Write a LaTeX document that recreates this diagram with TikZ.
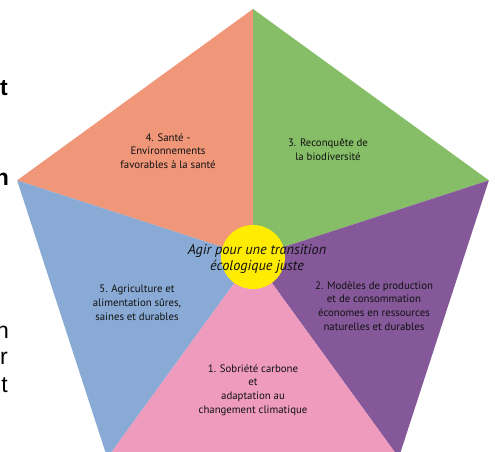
\documentclass[tikz,border=0pt]{standalone}
\usepackage{fontspec}
\setmainfont{PT Sans}
\newfontfamily\bordfont{Liberation Sans}
\usepackage{tikz}
\usetikzlibrary{positioning}

\definecolor{saumon}{HTML}{F0977A}
\definecolor{vert}{HTML}{86BE67}
\definecolor{violet}{HTML}{85589A}
\definecolor{bleu}{HTML}{88AAD5}
\definecolor{rose}{HTML}{EE9BBD}
\definecolor{jaune}{HTML}{FFEC00}
\definecolor{encre}{HTML}{111111}

\begin{document}
\begin{tikzpicture}[x=1pt,y=1pt,
  axe/.style={text=encre,align=center,font=\fontsize{10.8}{13.8}\selectfont},
  bord/.style={anchor=base east,inner sep=0pt,text=black,font=\bordfont\fontsize{23}{26}\selectfont}
  ]
  \useasboundingbox (0,0) rectangle (495,452);
  \clip (0,0) rectangle (495,452);
  \fill[white] (0,0) rectangle (495,452);
  % pentagon
  \coordinate (c) at (253,195);
  \coordinate (haut) at ([shift={(90:248)}]c);
  \coordinate (droite) at ([shift={(18:248)}]c);
  \coordinate (basd) at ([shift={(-54:248)}]c);
  \coordinate (basg) at ([shift={(-126:248)}]c);
  \coordinate (gauche) at ([shift={(162:248)}]c);
  \fill[saumon] (c) -- (gauche) -- (haut) -- cycle;
  \fill[vert] (c) -- (haut) -- (droite) -- cycle;
  \fill[violet] (c) -- (droite) -- (basd) -- cycle;
  \fill[rose] (c) -- (basd) -- (basg) -- cycle;
  \fill[bleu] (c) -- (basg) -- (gauche) -- cycle;
  \fill[jaune] (c) circle (32);
  % labels
  \node[axe] (sante) at (168,301) {4. Santé -\\Environnements\\favorables à la santé};
  \node[axe] (biodiv) at (328,302) {3. Reconquête de\\la biodiversité};
  \node[axe] (modeles) at (374,146) {2. Modèles de production\\et de consommation\\économes en ressources\\naturelles et durables};
  \node[axe] (agri) at (137,149) {5. Agriculture et\\alimentation sûres,\\saines et durables};
  \node[axe] (sobriete) at (253,62) {1. Sobriété carbone\\et\\adaptation au\\changement climatique};
  \node[axe,font=\fontsize{14.3}{16.5}\selectfont\itshape] (coeur) at (257,193) {Agir pour une transition\\écologique juste};
  % bouts de texte de la page voisine
  \node[bord,font=\bordfont\bfseries\fontsize{23}{26}\selectfont] (b1) at (8,356) {t};
  \node[bord,font=\bordfont\bfseries\fontsize{23}{26}\selectfont] (b2) at (9,266) {n};
  \node[bord] (b3) at (9,113) {n};
  \node[bord] (b4) at (8,87) {r};
  \node[bord] (b5) at (8,59) {t};
\end{tikzpicture}
\end{document}
